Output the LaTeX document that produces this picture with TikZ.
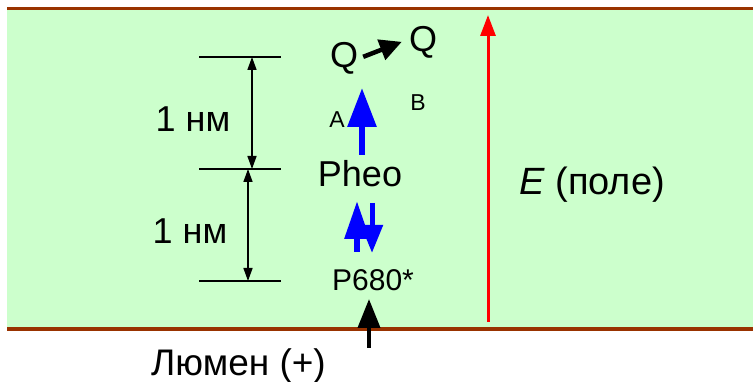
\documentclass[tikz,border=0pt]{standalone}
\usepackage{fontspec}
\setmainfont{Liberation Sans}
\usetikzlibrary{arrows.meta}
\definecolor{bandgreen}{HTML}{CCFFCC}
\definecolor{membrane}{HTML}{993300}
\definecolor{eblue}{HTML}{0000FF}
\begin{document}
\begin{tikzpicture}[x=1pt,y=-1pt,
  lbl/.style={inner sep=0pt,anchor=base,font=\fontsize{36}{40}\selectfont},
  small/.style={inner sep=0pt,anchor=base,font=\fontsize{23}{25}\selectfont},
  dimline/.style={line width=1.5pt},
  dimarrow/.style={line width=1.5pt,{Triangle[length=13pt,width=9pt]}-{Triangle[length=13pt,width=9pt]}},
  blackarrow/.style={black,line width=4.5pt,-{Triangle[length=22pt,width=21pt]}}
]
\useasboundingbox (0,0) rectangle (753,382);
% membrane band
\fill[bandgreen] (7,8.5) rectangle (753,329);
\draw[membrane,line width=3.5pt] (7,8.5) -- (753,8.5);
\draw[membrane,line width=3.5pt] (7,329) -- (753,329);

% dimension ticks
\coordinate (t1l) at (199,57);  \coordinate (t1r) at (281,57);
\coordinate (t2l) at (199,169); \coordinate (t2r) at (281,169);
\coordinate (t3l) at (199,281); \coordinate (t3r) at (281,281);
\draw[dimline] (t1l) -- (t1r);
\draw[dimline] (t2l) -- (t2r);
\draw[dimline] (t3l) -- (t3r);
\coordinate (d1a) at (252,57);  \coordinate (d1b) at (252,169);
\coordinate (d2a) at (248,169); \coordinate (d2b) at (248,281);
\draw[dimarrow] (d1a) -- (d1b);
\draw[dimarrow] (d2a) -- (d2b);
\node[lbl] (nm1) at (193,132) {1 нм};
\node[lbl] (nm2) at (190,244) {1 нм};

% molecules
\node[lbl] (Q1) at (344,68) {Q};
\node[lbl] (Q2) at (423,52) {Q};
\node[small] (A) at (337,128) {A};
\node[small] (B) at (418,111) {B};
\node[lbl] (Pheo) at (360,187) {Pheo};
\node[lbl,font=\fontsize{30}{34}\selectfont] (P680) at (373,291) {P680*};

% Q -> Q arrow
\draw[blackarrow] ([shift={(5pt,2pt)}]Q1.east |- Q1.center) -- ([shift={(-7pt,1pt)}]Q2.west |- Q2.center);

% blue arrows
\coordinate (pu0) at (362,155); \coordinate (pu1) at (362,88);
\draw[eblue,line width=6pt,-{Triangle[length=39pt,width=28pt]}] (pu0) -- (pu1);
\coordinate (up0) at (357,252); \coordinate (up1) at (357,201);
\draw[eblue,line width=6pt,-{Triangle[length=38pt,width=24pt]}] (up0) -- (up1);
\coordinate (dn0) at (372,203); \coordinate (dn1) at (372,253);
\draw[eblue,line width=5pt,-{Triangle[length=28pt,width=21pt]}] (dn0) -- (dn1);

% lumen arrow
\coordinate (lu0) at (369,348); \coordinate (lu1) at (369,299);
\draw[black,line width=4pt,-{Triangle[length=29pt,width=22pt]}] (lu0) -- (lu1);
\node[lbl,font=\fontsize{37}{40}\selectfont] (lumen) at (238.5,375) {Люмен (+)};

% field arrow
\coordinate (e0) at (488,322); \coordinate (e1) at (488,15);
\draw[red,line width=3pt,-{Triangle[length=21pt,width=15pt]}] (e0) -- (e1);
\node[lbl,font=\fontsize{38}{42}\selectfont] (E) at (592,195) {\textit{E} (поле)};
\end{tikzpicture}
\end{document}
